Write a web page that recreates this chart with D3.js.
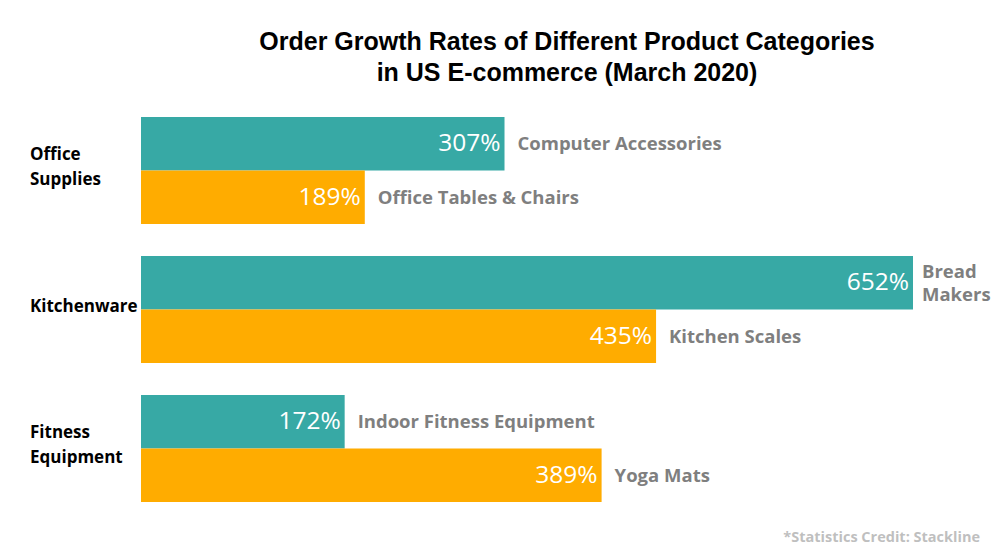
<!DOCTYPE html>
<html><head><meta charset="utf-8">
<script src="https://cdn.jsdelivr.net/npm/d3@7"></script>
<style>
html,body{margin:0;padding:0;background:#fff;}
svg{display:block;}
</style></head>
<body>
<svg id="chart" width="1000" height="557"></svg>
<script>
const groups = [["Office","Supplies"],["Kitchenware"],["Fitness","Equipment"]];
const groupKeys = ["Office Supplies","Kitchenware","Fitness Equipment"];
const series = ["first","second"];
const items = [
  ["Computer Accessories","Office Tables & Chairs"],
  [["Bread","Makers"],"Kitchen Scales"],
  ["Indoor Fitness Equipment","Yoga Mats"]
];
const values = [
  [307,189],
  [652,435],
  [172,389]
];
const colors = ["#37A9A5","#FFAC00"];
const title = ["Order Growth Rates of Different Product Categories","in US E-commerce (March 2020)"];
const credit = "*Statistics Credit: Stackline";

const svg = d3.select("#chart");
const x = d3.scaleLinear().domain([0,652]).range([141,913]);
const y = d3.scaleBand().domain(groupKeys).range([117,502]).paddingInner(0.2302).paddingOuter(0);
const ys = d3.scaleBand().domain(series).range([0,y.bandwidth()]).padding(0);

svg.append("g").selectAll("text").data(title).join("text")
  .attr("x",567).attr("y",(d,i)=>50+i*31)
  .attr("text-anchor","middle")
  .attr("font-family","Liberation Sans, Arial, sans-serif")
  .attr("font-weight","bold").attr("font-size",25).attr("fill","#000")
  .text(d=>d);

groupKeys.forEach((g,gi)=>{
  const gy = y(g);
  const gEl = svg.append("g").attr("transform",`translate(0,${gy})`);
  series.forEach((s,si)=>{
    const v = values[gi][si];
    const by = ys(s);
    gEl.append("rect").attr("x",x(0)).attr("y",by).attr("width",x(v)-x(0)).attr("height",ys.bandwidth()).attr("fill",colors[si]);
    gEl.append("text").attr("x",x(v)-4).attr("y",by+ys.bandwidth()/2+7.5)
      .attr("text-anchor","end").attr("font-family","Open Sans, Noto Sans, sans-serif")
      .attr("font-weight",400).attr("font-size",24.5).attr("fill","#fff").text(v+"%");
    const lab = items[gi][si];
    const lines = Array.isArray(lab)?lab:[lab];
    const t = gEl.append("text")
      .attr("font-family","Open Sans, Noto Sans, sans-serif")
      .attr("font-weight","bold").attr("font-size",18.5).attr("fill","#7F7F7F");
    const off = lines.length > 1 ? 9 : 13;
    lines.forEach((l,li)=>{
      t.append("tspan").attr("x",x(v)+off)
        .attr("y",by+ys.bandwidth()/2+6.5+(li-(lines.length-1)/2)*23).text(l);
    });
  });
  const gl = groups[gi];
  const lt = svg.append("text").attr("font-family","Open Sans, Noto Sans, sans-serif")
    .attr("font-weight","bold").attr("font-size",17).attr("fill","#000");
  gl.forEach((l,li)=>{
    lt.append("tspan").attr("x",30).attr("y",gy+y.bandwidth()/2+2+(li-(gl.length-1)/2)*25).text(l);
  });
});

svg.append("text").attr("x",980).attr("y",542).attr("text-anchor","end")
  .attr("font-family","Open Sans, Noto Sans, sans-serif").attr("font-weight","bold")
  .attr("font-size",14.5).attr("fill","#BFBFBF").text(credit);
</script>
</body></html>
